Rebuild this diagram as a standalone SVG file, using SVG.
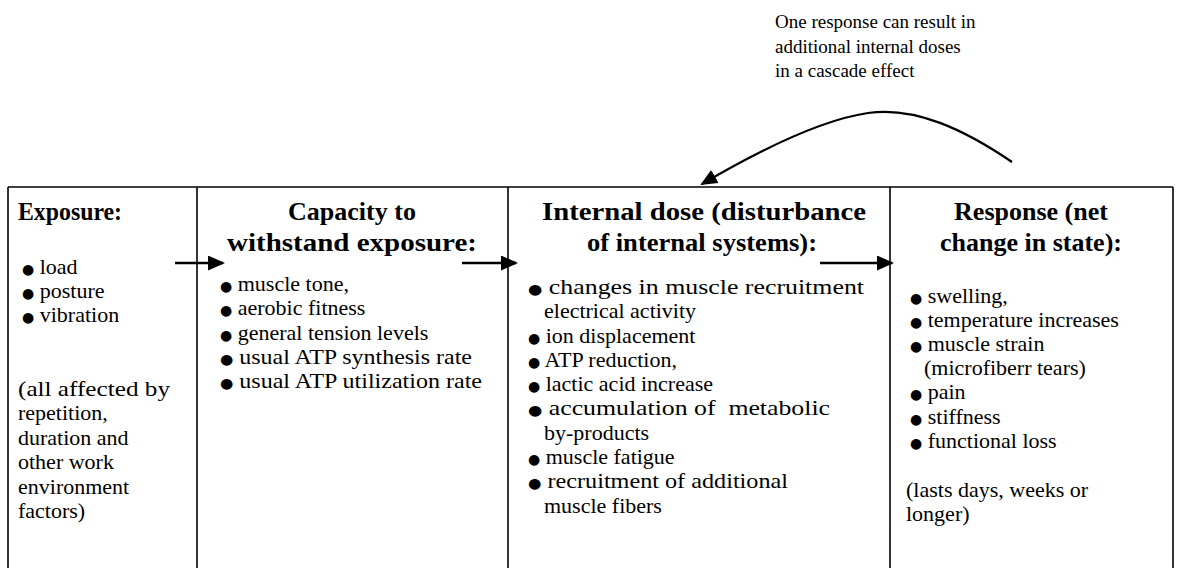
<svg xmlns="http://www.w3.org/2000/svg" width="1178" height="568" viewBox="0 0 1178 568">
<style>
text{font-family:"Liberation Serif","Times New Roman",serif;fill:#000}
.h{font-family:"Liberation Serif","Times New Roman",serif;font-size:26px;font-weight:bold}
.c{text-anchor:middle}
.t{font-family:"Liberation Serif","Times New Roman",serif;font-size:22px}
.b{font-size:14px;font-family:"DejaVu Sans",sans-serif}
.frame{stroke:#000;stroke-width:1.6;fill:none}
.arr{stroke:#000;stroke-width:2.6;fill:none}
</style>
<defs>
<marker id="ah2" markerWidth="17" markerHeight="15" refX="15" refY="7.5" orient="auto" markerUnits="userSpaceOnUse" viewBox="0 0 17 15">
<path d="M0,0 L17,7.5 L0,15 z" fill="#000"/>
</marker>
</defs>
<g id="frame" class="frame">
<line x1="8" y1="187" x2="1173" y2="187"/>
<line x1="8" y1="187" x2="8" y2="568"/>
<line x1="197" y1="187" x2="197" y2="568"/>
<line x1="508" y1="187" x2="508" y2="568"/>
<line x1="890" y1="187" x2="890" y2="568"/>
<line x1="1173" y1="187" x2="1173" y2="568"/>
</g>
<g id="note">
<text class="t" x="775" y="28" style="font-size:19px">One response can result in</text>
<text class="t" x="775" y="53" style="font-size:19px">additional internal doses</text>
<text class="t" x="775" y="77" style="font-size:19px">in a cascade effect</text>
</g>
<g id="exposure">
<text class="h" x="18" y="220" textLength="104" lengthAdjust="spacingAndGlyphs">Exposure:</text>
<text class="t" x="22" y="274"><tspan class="b">●</tspan> load</text>
<text class="t" x="22" y="298"><tspan class="b">●</tspan> posture</text>
<text class="t" x="22" y="322"><tspan class="b">●</tspan> vibration</text>
<text class="t" x="18" y="396" textLength="152" lengthAdjust="spacingAndGlyphs">(all affected by</text>
<text class="t" x="18" y="420">repetition,</text>
<text class="t" x="18" y="445">duration and</text>
<text class="t" x="18" y="469">other work</text>
<text class="t" x="18" y="494">environment</text>
<text class="t" x="18" y="518">factors)</text>
</g>
<g id="capacity">
<text class="h c" x="352" y="220">Capacity to</text>
<text class="h c" x="352" y="251" textLength="250" lengthAdjust="spacingAndGlyphs">withstand exposure:</text>
<text class="t" x="220" y="291"><tspan class="b">●</tspan> muscle tone,</text>
<text class="t" x="220" y="315"><tspan class="b">●</tspan> aerobic fitness</text>
<text class="t" x="220" y="340"><tspan class="b">●</tspan> general tension levels</text>
<text class="t" x="220" y="364" textLength="252" lengthAdjust="spacingAndGlyphs"><tspan class="b">●</tspan> usual ATP synthesis rate</text>
<text class="t" x="220" y="388" textLength="262" lengthAdjust="spacingAndGlyphs"><tspan class="b">●</tspan> usual ATP utilization rate</text>
</g>
<g id="internal-dose">
<text class="h c" x="704" y="220" textLength="324" lengthAdjust="spacingAndGlyphs">Internal dose (disturbance</text>
<text class="h c" x="702" y="251" textLength="230" lengthAdjust="spacingAndGlyphs">of internal systems):</text>
<text class="t" x="528" y="294" textLength="336" lengthAdjust="spacingAndGlyphs"><tspan class="b">●</tspan> changes in muscle recruitment</text>
<text class="t" x="544" y="318">electrical activity</text>
<text class="t" x="528" y="343"><tspan class="b">●</tspan> ion displacement</text>
<text class="t" x="528" y="367"><tspan class="b">●</tspan> ATP reduction,</text>
<text class="t" x="528" y="391"><tspan class="b">●</tspan> lactic acid increase</text>
<text class="t" x="528" y="415" xml:space="preserve" textLength="302" lengthAdjust="spacingAndGlyphs"><tspan class="b">●</tspan> accumulation of  metabolic</text>
<text class="t" x="544" y="440">by-products</text>
<text class="t" x="528" y="464"><tspan class="b">●</tspan> muscle fatigue</text>
<text class="t" x="528" y="488" textLength="260" lengthAdjust="spacingAndGlyphs"><tspan class="b">●</tspan> recruitment of additional</text>
<text class="t" x="544" y="513">muscle fibers</text>
</g>
<g id="response">
<text class="h c" x="1031" y="220">Response (net</text>
<text class="h c" x="1031" y="251">change in state):</text>
<text class="t" x="910" y="303"><tspan class="b">●</tspan> swelling,</text>
<text class="t" x="910" y="327"><tspan class="b">●</tspan> temperature increases</text>
<text class="t" x="910" y="351"><tspan class="b">●</tspan> muscle strain</text>
<text class="t" x="924" y="375">(microfiberr tears)</text>
<text class="t" x="910" y="399"><tspan class="b">●</tspan> pain</text>
<text class="t" x="910" y="424"><tspan class="b">●</tspan> stiffness</text>
<text class="t" x="910" y="448"><tspan class="b">●</tspan> functional loss</text>
<text class="t" x="906" y="497">(lasts days, weeks or</text>
<text class="t" x="906" y="521">longer)</text>
</g>
<g id="connectors" class="arr">
<line x1="175" y1="263" x2="223" y2="263" marker-end="url(#ah2)"/>
<line x1="462" y1="263" x2="516" y2="263" marker-end="url(#ah2)"/>
<line x1="820" y1="263" x2="892" y2="263" marker-end="url(#ah2)"/>
<path d="M1012,162 C965,130 915,106 868,113 C820,120 760,150 702,184" stroke-width="2.2" marker-end="url(#ah2)"/>
</g>
</svg>
